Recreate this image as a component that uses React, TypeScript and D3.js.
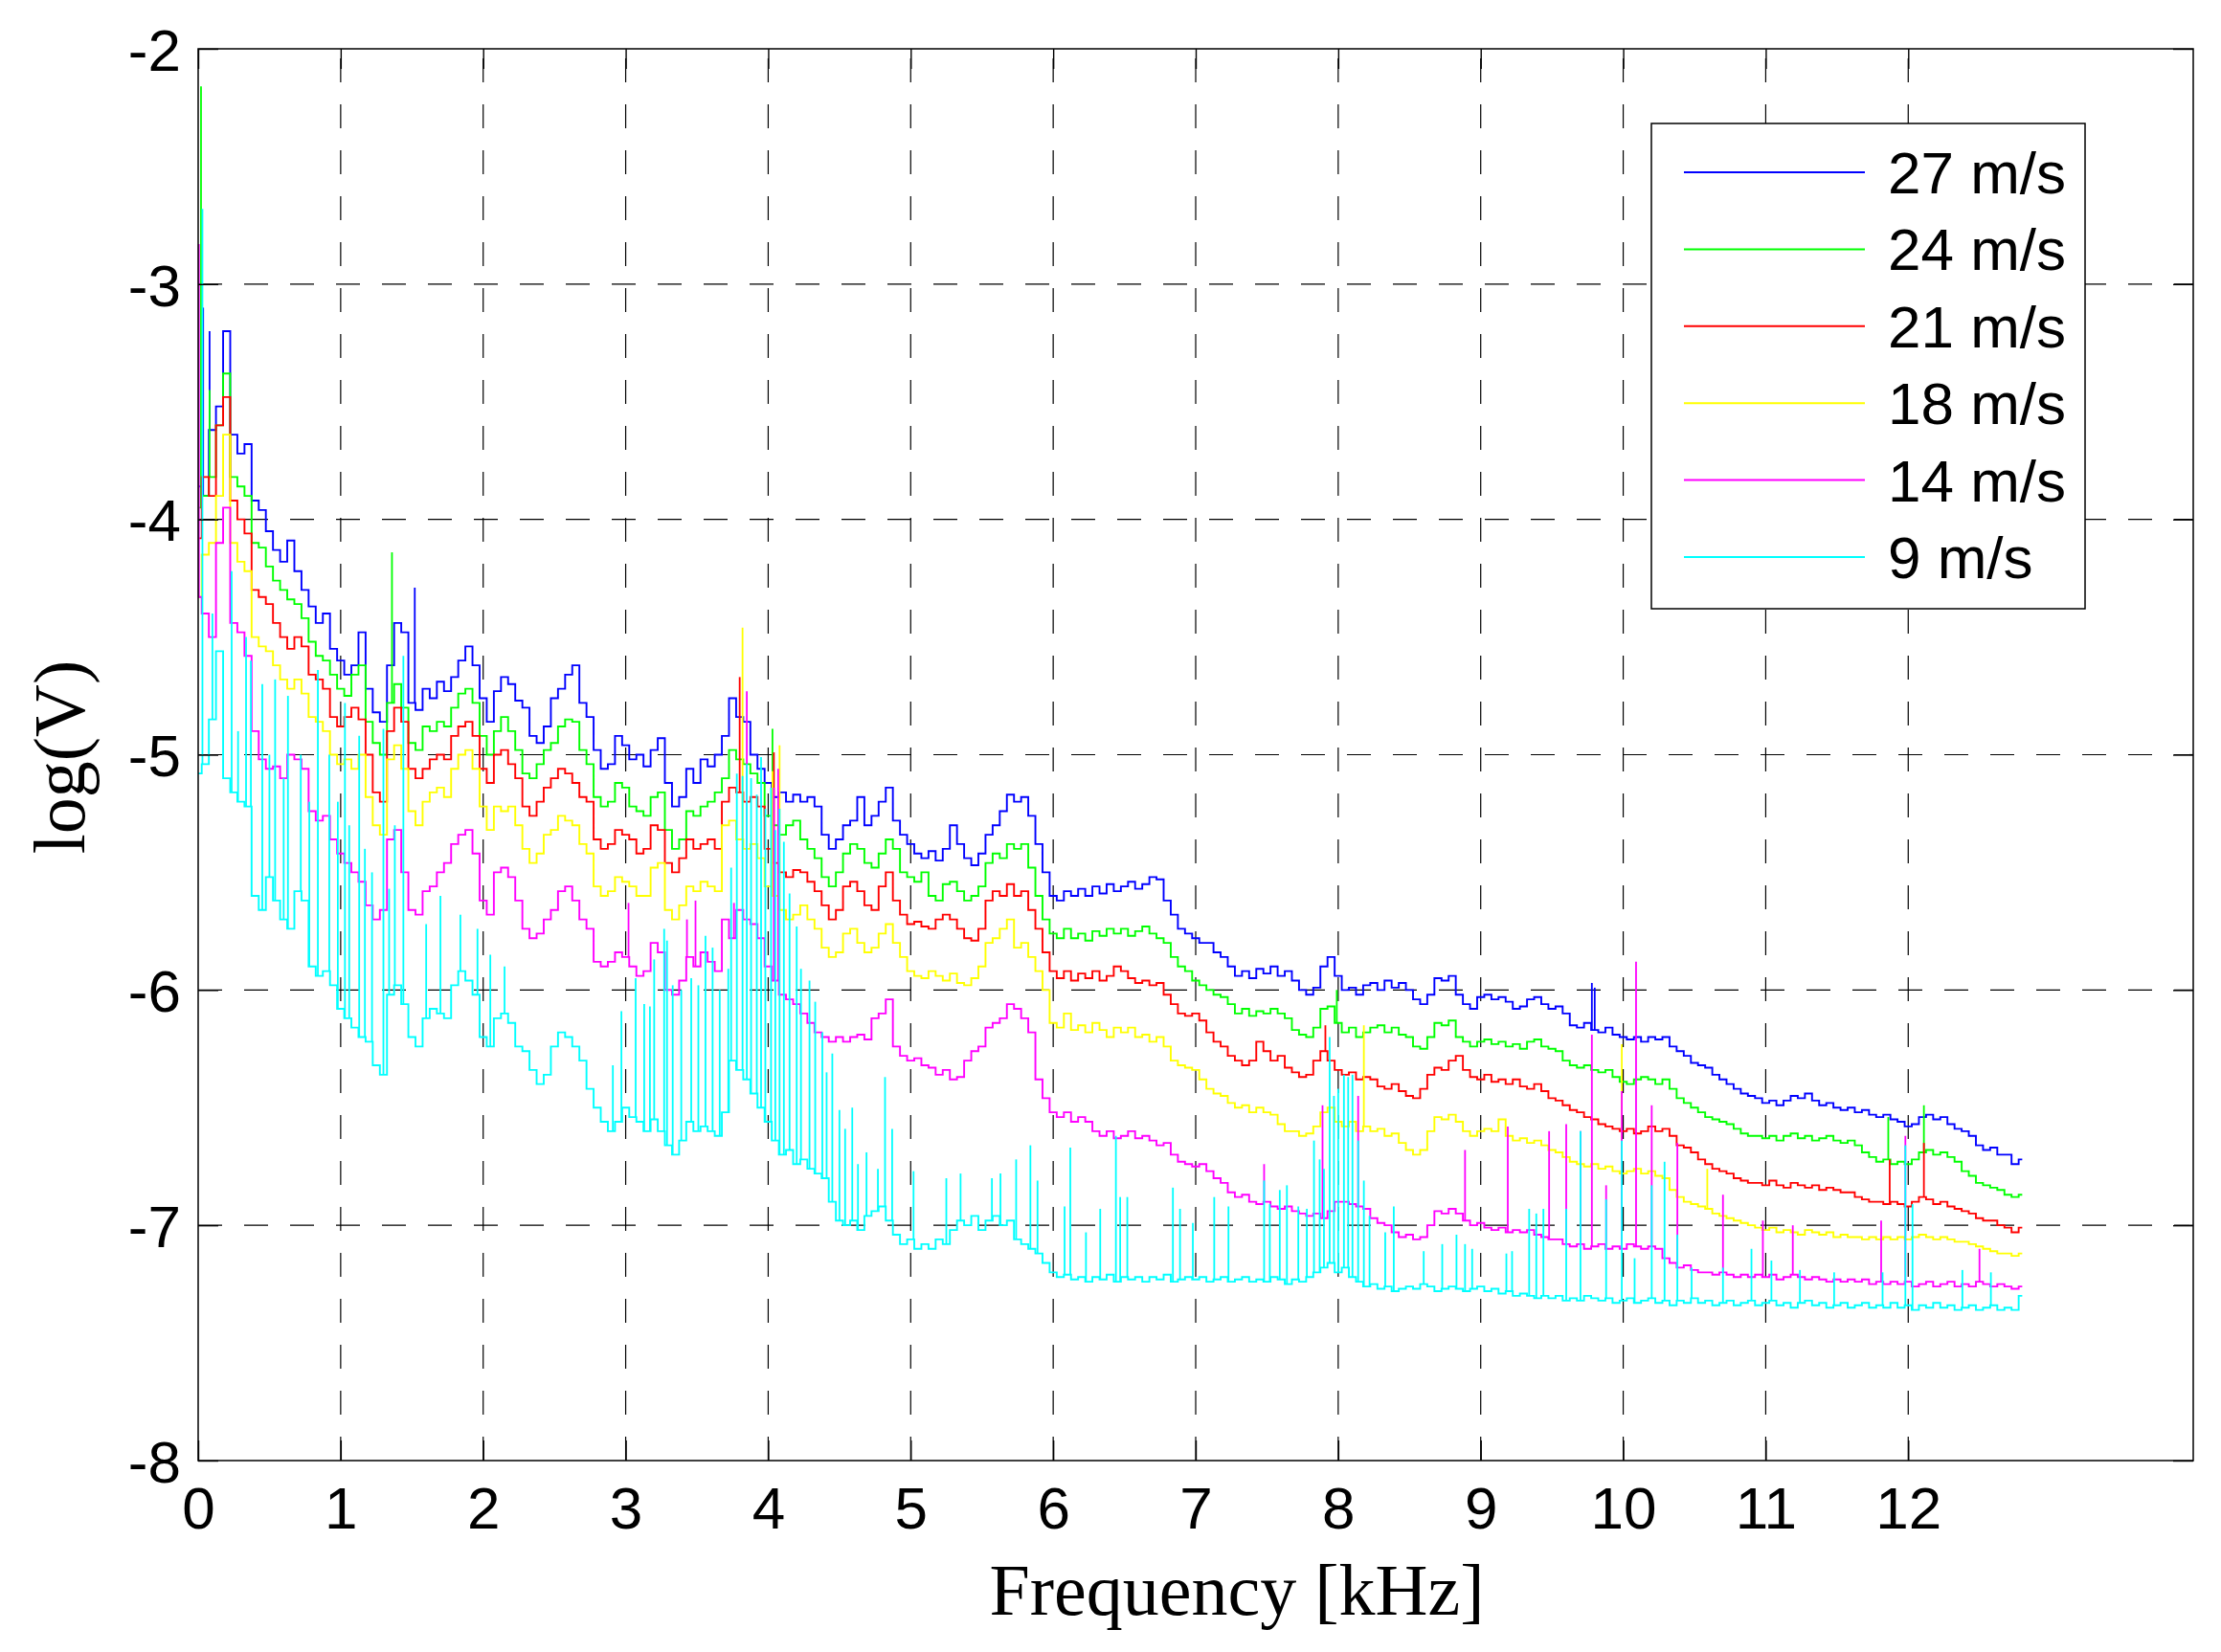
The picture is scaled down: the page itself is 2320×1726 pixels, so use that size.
import React, { useRef, useEffect } from "react";
import { select, scaleLinear, axisBottom, axisLeft, axisTop, axisRight, line, curveStep } from "d3";

// spectra sampled every 0.05 kHz from 0 to 12.8 kHz, values are log(V)
const freqStep = 0.05;
const xTickValues = [0, 1, 2, 3, 4, 5, 6, 7, 8, 9, 10, 11, 12];
const yTickValues = [-8, -7, -6, -5, -4, -3, -2];
const speedLabels = ["27 m/s", "24 m/s", "21 m/s", "18 m/s", "14 m/s", "9 m/s"];
const speedColors = ["#0000ff", "#00ff00", "#ff0000", "#ffff00", "#ff00ff", "#00ffff"];

const logV27 = [
  -3.86, -3.9, -3.62, -3.52, -3.2, -3.64, -3.72, -3.68, -3.92, -3.96,
  -4.05, -4.13, -4.18, -4.09, -4.22, -4.3, -4.37, -4.44, -4.4, -4.55,
  -4.6, -4.66, -4.62, -4.48, -4.72, -4.82, -4.86, -4.62, -4.44, -4.48,
  -4.78, -4.81, -4.72, -4.76, -4.69, -4.73, -4.67, -4.6, -4.54, -4.62,
  -4.76, -4.86, -4.73, -4.67, -4.7, -4.77, -4.8, -4.92, -4.95, -4.88,
  -4.76, -4.72, -4.66, -4.62, -4.78, -4.84, -4.98, -5.06, -5.04, -4.92,
  -4.96, -5.02, -5.0, -5.05, -4.98, -4.93, -5.12, -5.22, -5.18, -5.06,
  -5.12, -5.02, -5.05, -5.0, -4.92, -4.76, -4.84, -4.86, -5.0, -5.06,
  -5.12, -5.18, -5.16, -5.2, -5.17, -5.2, -5.18, -5.22, -5.34, -5.4,
  -5.36, -5.3, -5.28, -5.18, -5.3, -5.26, -5.2, -5.14, -5.28, -5.34,
  -5.38, -5.42, -5.44, -5.41, -5.45, -5.4, -5.3, -5.38, -5.44, -5.47,
  -5.42, -5.34, -5.3, -5.24, -5.17, -5.2, -5.18, -5.26, -5.38, -5.5,
  -5.6, -5.62, -5.58, -5.6, -5.57, -5.6, -5.56, -5.59, -5.55, -5.58,
  -5.56, -5.54, -5.57, -5.55, -5.52, -5.53, -5.62, -5.68, -5.74, -5.76,
  -5.78, -5.8, -5.8, -5.84, -5.86, -5.9, -5.94, -5.92, -5.95, -5.91,
  -5.93, -5.9, -5.94, -5.92, -5.96, -6.0, -6.02, -5.99, -5.9, -5.86,
  -5.94, -6.0, -5.99, -6.02, -5.98, -5.97, -6.0, -5.96, -5.99, -5.97,
  -6.0, -6.04, -6.06, -6.02, -5.95, -5.96, -5.94, -6.02, -6.06, -6.08,
  -6.03, -6.02, -6.04, -6.03, -6.05, -6.08, -6.07, -6.04, -6.03, -6.06,
  -6.08, -6.07, -6.1, -6.15, -6.16, -6.14, -6.17, -6.18, -6.16, -6.19,
  -6.2, -6.21, -6.2, -6.22, -6.2, -6.21, -6.2, -6.24, -6.26, -6.28,
  -6.31, -6.32, -6.33, -6.36, -6.38, -6.4, -6.42, -6.44, -6.45, -6.46,
  -6.48, -6.47, -6.49, -6.47, -6.45, -6.46, -6.44, -6.47, -6.49, -6.48,
  -6.5, -6.51, -6.5, -6.52, -6.51, -6.53, -6.54, -6.53, -6.55, -6.56,
  -6.58, -6.57, -6.54, -6.53, -6.55, -6.54, -6.57, -6.59, -6.6, -6.62,
  -6.66, -6.68, -6.67, -6.7, -6.7, -6.74, -6.72,
];

const logV24 = [
  -3.95, -3.9, -3.82, -3.6, -3.38, -3.82, -3.86, -3.9, -4.1, -4.12,
  -4.2, -4.26, -4.3, -4.34, -4.36, -4.42, -4.52, -4.58, -4.6, -4.66,
  -4.72, -4.75, -4.66, -4.62, -4.86, -4.95, -5.0, -4.78, -4.7, -4.8,
  -4.95, -4.98, -4.88, -4.9, -4.86, -4.88, -4.8, -4.74, -4.72, -4.78,
  -4.92, -5.0, -4.9, -4.84, -4.9, -4.98, -5.08, -5.1, -5.04, -4.98,
  -4.95, -4.88, -4.85, -4.86, -4.98, -5.04, -5.18, -5.22, -5.2, -5.12,
  -5.14, -5.22, -5.24, -5.26, -5.18, -5.16, -5.32, -5.4, -5.36, -5.24,
  -5.26, -5.22, -5.2, -5.16, -5.1, -4.98, -5.02, -5.04, -5.08, -5.12,
  -5.26, -5.3, -5.34, -5.3, -5.28, -5.36, -5.4, -5.44, -5.52, -5.56,
  -5.5, -5.42, -5.38, -5.4, -5.46, -5.48, -5.42, -5.36, -5.4, -5.5,
  -5.52, -5.54, -5.5, -5.6, -5.62, -5.55, -5.54, -5.58, -5.62, -5.6,
  -5.56, -5.46, -5.42, -5.44, -5.38, -5.4, -5.38, -5.48, -5.6, -5.7,
  -5.76, -5.78, -5.74, -5.78, -5.76, -5.79, -5.75, -5.77, -5.74, -5.76,
  -5.74, -5.77, -5.75, -5.73, -5.76, -5.78, -5.8, -5.86, -5.9, -5.92,
  -5.96, -5.98, -6.0, -6.02, -6.03, -6.06, -6.1, -6.08, -6.11, -6.09,
  -6.1, -6.08, -6.1, -6.12, -6.17, -6.19, -6.2, -6.16, -6.08, -6.07,
  -6.14, -6.18, -6.16, -6.2, -6.18, -6.16, -6.15, -6.18, -6.16, -6.19,
  -6.2, -6.24, -6.25, -6.2, -6.14, -6.15, -6.13, -6.2, -6.22, -6.24,
  -6.22, -6.21, -6.23, -6.22, -6.24, -6.23, -6.25, -6.22, -6.21, -6.24,
  -6.25, -6.26, -6.3, -6.32, -6.33, -6.32, -6.34, -6.35, -6.34, -6.37,
  -6.39, -6.4, -6.38, -6.37, -6.38, -6.4, -6.38, -6.42, -6.46, -6.48,
  -6.5, -6.52, -6.54, -6.55, -6.56, -6.57, -6.59, -6.61, -6.62, -6.62,
  -6.63, -6.62, -6.64, -6.62, -6.61, -6.63, -6.62, -6.64, -6.63, -6.62,
  -6.64, -6.65, -6.64, -6.66, -6.69, -6.71, -6.73, -6.72, -6.74, -6.73,
  -6.74, -6.72, -6.69, -6.68, -6.7, -6.69, -6.71, -6.73, -6.77, -6.79,
  -6.82, -6.83, -6.84, -6.85, -6.87, -6.88, -6.87,
];

const logV21 = [
  -4.08, -3.82, -3.9, -3.6, -3.48, -3.92, -4.0, -4.06, -4.3, -4.33,
  -4.36, -4.44, -4.5, -4.55, -4.5, -4.54, -4.66, -4.68, -4.72, -4.84,
  -4.88, -4.84, -4.8, -4.85, -5.0, -5.16, -5.2, -4.9, -4.8, -4.86,
  -5.06, -5.1, -5.06, -5.02, -5.0, -5.02, -4.92, -4.88, -4.86, -4.92,
  -5.06, -5.12, -5.0, -4.98, -5.04, -5.1, -5.22, -5.26, -5.2, -5.14,
  -5.1, -5.06, -5.08, -5.12, -5.18, -5.2, -5.36, -5.4, -5.38, -5.32,
  -5.34, -5.36, -5.42, -5.4, -5.3, -5.32, -5.46, -5.5, -5.44, -5.36,
  -5.4, -5.38, -5.36, -5.4, -5.2, -5.14, -5.16, -5.2, -5.18, -5.22,
  -5.4, -5.46, -5.5, -5.52, -5.49, -5.5, -5.54, -5.58, -5.64, -5.7,
  -5.66, -5.56, -5.54, -5.58, -5.64, -5.66, -5.56, -5.5, -5.62, -5.68,
  -5.72, -5.71, -5.73, -5.74, -5.7, -5.68, -5.7, -5.74, -5.78, -5.79,
  -5.74, -5.62, -5.58, -5.6, -5.55, -5.6, -5.58, -5.66, -5.74, -5.84,
  -5.92, -5.95, -5.92, -5.96, -5.93, -5.95, -5.92, -5.96, -5.94, -5.9,
  -5.92, -5.95, -5.97, -5.96, -5.98, -5.97, -6.02, -6.06, -6.1, -6.11,
  -6.1, -6.13, -6.18, -6.22, -6.24, -6.28, -6.3, -6.32, -6.3, -6.22,
  -6.26, -6.3, -6.28, -6.33, -6.35, -6.37, -6.36, -6.3, -6.26, -6.3,
  -6.34, -6.36, -6.35, -6.38, -6.37, -6.38, -6.41, -6.42, -6.4, -6.43,
  -6.45, -6.46, -6.42, -6.36, -6.33, -6.34, -6.3, -6.28, -6.34, -6.37,
  -6.38, -6.36, -6.39, -6.38, -6.4, -6.38, -6.41, -6.42, -6.4, -6.43,
  -6.46, -6.47, -6.49, -6.51, -6.52, -6.54, -6.55, -6.57, -6.58, -6.59,
  -6.6, -6.59, -6.61, -6.6, -6.58, -6.6, -6.59, -6.62, -6.66, -6.67,
  -6.69, -6.72, -6.74, -6.76, -6.77, -6.78, -6.8, -6.81, -6.82, -6.82,
  -6.83, -6.81, -6.83, -6.84, -6.82, -6.83, -6.84, -6.83, -6.85, -6.84,
  -6.85, -6.86, -6.86, -6.88, -6.89, -6.9, -6.9, -6.91, -6.9, -6.91,
  -6.92, -6.9, -6.88, -6.89, -6.91, -6.9, -6.92, -6.93, -6.94, -6.95,
  -6.97, -6.98, -6.98, -7.0, -7.01, -7.03, -7.01,
];

const logV18 = [
  -4.33, -4.15, -4.1, -3.9, -3.64, -4.1, -4.18, -4.22, -4.5, -4.54,
  -4.56, -4.62, -4.68, -4.72, -4.68, -4.74, -4.84, -4.86, -4.9, -5.0,
  -5.04, -5.02, -5.06, -5.0, -5.18, -5.3, -5.34, -5.02, -4.96, -5.06,
  -5.24, -5.3, -5.2, -5.16, -5.14, -5.18, -5.06, -5.0, -4.98, -5.06,
  -5.22, -5.32, -5.22, -5.24, -5.22, -5.3, -5.4, -5.46, -5.42, -5.34,
  -5.32, -5.26, -5.28, -5.3, -5.38, -5.42, -5.56, -5.6, -5.58, -5.52,
  -5.54, -5.56, -5.6, -5.6, -5.48, -5.46, -5.66, -5.7, -5.64, -5.56,
  -5.58, -5.54, -5.56, -5.58, -5.3, -5.28, -5.36, -5.4, -5.38, -5.44,
  -5.56, -5.6, -5.66, -5.7, -5.68, -5.64, -5.7, -5.74, -5.82, -5.86,
  -5.84, -5.76, -5.74, -5.8, -5.84, -5.82, -5.76, -5.72, -5.8, -5.86,
  -5.92, -5.94, -5.95, -5.92, -5.94, -5.96, -5.93, -5.97, -5.98, -5.95,
  -5.9, -5.8, -5.78, -5.74, -5.7, -5.82, -5.8, -5.86, -5.92, -6.0,
  -6.14, -6.16, -6.1, -6.17, -6.15, -6.18, -6.14, -6.17, -6.2, -6.16,
  -6.18, -6.16, -6.2, -6.19, -6.22, -6.2, -6.24, -6.3, -6.32, -6.33,
  -6.34, -6.38, -6.42, -6.44, -6.45, -6.48, -6.5, -6.49, -6.52, -6.5,
  -6.52, -6.53, -6.57, -6.6, -6.6, -6.62, -6.61, -6.58, -6.52, -6.5,
  -6.56, -6.58, -6.56, -6.6, -6.58, -6.6, -6.59, -6.62, -6.61, -6.65,
  -6.68, -6.7, -6.68, -6.6, -6.54, -6.55, -6.53, -6.56, -6.6, -6.62,
  -6.6, -6.59, -6.6, -6.55, -6.62, -6.64, -6.63, -6.65, -6.64, -6.66,
  -6.68, -6.69, -6.71, -6.73, -6.74, -6.75, -6.74, -6.76, -6.75, -6.77,
  -6.78, -6.77, -6.76, -6.78, -6.77, -6.79, -6.8, -6.85, -6.88, -6.9,
  -6.91, -6.92, -6.93, -6.95, -6.96, -6.97, -6.98, -6.99, -7.0, -7.01,
  -7.02, -7.01, -7.03, -7.02, -7.03, -7.04, -7.02, -7.03, -7.04, -7.03,
  -7.05, -7.04, -7.05, -7.05, -7.06, -7.05, -7.06, -7.05, -7.06, -7.05,
  -7.06, -7.05, -7.04, -7.05, -7.06, -7.05, -7.06, -7.07, -7.07, -7.08,
  -7.09, -7.1, -7.11, -7.12, -7.12, -7.13, -7.12,
];

const logV14 = [
  -4.33, -4.4, -4.5, -4.1, -3.95, -4.44, -4.48, -4.58, -4.9, -5.02,
  -5.06, -5.05, -5.1, -5.0, -5.02, -5.06, -5.24, -5.28, -5.26, -5.36,
  -5.42, -5.46, -5.5, -5.54, -5.64, -5.7, -5.66, -5.36, -5.32, -5.5,
  -5.66, -5.68, -5.58, -5.56, -5.5, -5.46, -5.38, -5.34, -5.32, -5.42,
  -5.62, -5.68, -5.5, -5.48, -5.52, -5.62, -5.74, -5.78, -5.76, -5.7,
  -5.66, -5.58, -5.56, -5.62, -5.7, -5.74, -5.88, -5.9, -5.88, -5.84,
  -5.86, -5.9, -5.94, -5.92, -5.8, -5.84, -6.0, -6.02, -5.96, -5.86,
  -5.9, -5.84, -5.88, -5.92, -5.7, -5.78, -5.66, -5.7, -5.72, -5.78,
  -5.9, -5.96, -6.02, -6.04, -6.06, -6.1, -6.14, -6.18, -6.2, -6.22,
  -6.2, -6.22, -6.2, -6.19, -6.21, -6.12, -6.1, -6.04, -6.24, -6.28,
  -6.3, -6.29, -6.32, -6.33, -6.36, -6.34, -6.38, -6.37, -6.3, -6.26,
  -6.24, -6.16, -6.14, -6.12, -6.06, -6.08, -6.12, -6.18, -6.38, -6.46,
  -6.52, -6.54, -6.52, -6.56, -6.54, -6.56, -6.6, -6.62, -6.6, -6.63,
  -6.62, -6.6, -6.63, -6.62, -6.64, -6.66, -6.65, -6.7, -6.73, -6.74,
  -6.75, -6.74, -6.77, -6.8, -6.82, -6.86, -6.88, -6.87, -6.9, -6.91,
  -6.9, -6.92, -6.93, -6.92, -6.94, -6.95, -6.96, -6.95, -6.97, -6.94,
  -6.9, -6.9, -6.91, -6.92, -6.93, -6.97, -6.99, -7.0, -7.03, -7.05,
  -7.04, -7.06, -7.05, -7.0, -6.94, -6.95, -6.93, -6.95, -6.98, -7.0,
  -6.99, -7.01, -7.02, -7.01, -7.03, -7.02, -7.03, -7.02, -7.04, -7.05,
  -7.06, -7.06, -7.08, -7.09, -7.08, -7.1, -7.09, -7.08, -7.1, -7.09,
  -7.1, -7.08, -7.09, -7.1, -7.09, -7.1, -7.14, -7.16, -7.18, -7.17,
  -7.19, -7.2, -7.2, -7.21, -7.2, -7.21, -7.22, -7.21, -7.22, -7.21,
  -7.22, -7.21, -7.23, -7.22, -7.21, -7.22, -7.23, -7.22, -7.23, -7.24,
  -7.23, -7.24, -7.23, -7.24, -7.23, -7.25, -7.24, -7.25, -7.24, -7.25,
  -7.24, -7.26, -7.25, -7.24, -7.26, -7.25, -7.24, -7.26, -7.25, -7.26,
  -7.24, -7.25, -7.26, -7.25, -7.26, -7.27, -7.26,
];

const logV9 = [
  -5.08, -5.04, -4.85, -4.56, -5.1, -5.16, -5.2, -5.22, -5.6, -5.66,
  -5.52, -5.62, -5.7, -5.74, -5.58, -5.62, -5.9, -5.94, -5.92, -5.98,
  -6.08, -6.12, -6.16, -6.2, -6.22, -6.32, -6.36, -6.02, -5.98, -6.06,
  -6.2, -6.24, -6.12, -6.08, -6.1, -6.12, -5.98, -5.92, -5.96, -6.02,
  -6.2, -6.24, -6.12, -6.1, -6.14, -6.24, -6.26, -6.34, -6.4, -6.36,
  -6.24, -6.18, -6.2, -6.24, -6.3, -6.42, -6.5, -6.56, -6.6, -6.56,
  -6.5, -6.54, -6.56, -6.6, -6.55, -6.6, -6.66, -6.7, -6.64, -6.56,
  -6.6, -6.58, -6.6, -6.62, -6.52, -6.3, -6.34, -6.38, -6.44, -6.5,
  -6.56, -6.64, -6.7, -6.68, -6.74, -6.72, -6.76, -6.78, -6.8, -6.9,
  -6.98, -7.0, -6.98, -7.02, -6.96, -6.94, -6.92, -6.98, -7.04, -7.08,
  -7.06, -7.1, -7.08, -7.1, -7.06, -7.08, -7.02, -6.98, -7.0, -6.96,
  -7.02, -6.98, -6.96, -7.0, -6.98, -7.06, -7.08, -7.1, -7.12, -7.16,
  -7.2, -7.22, -7.21, -7.23, -7.22, -7.24, -7.22, -7.23, -7.21, -7.24,
  -7.22, -7.23, -7.22, -7.24, -7.22, -7.23, -7.21, -7.24, -7.23, -7.22,
  -7.23, -7.22, -7.24, -7.23, -7.22, -7.24, -7.23, -7.22, -7.24, -7.23,
  -7.24, -7.22, -7.23, -7.25, -7.23, -7.24, -7.22, -7.2, -7.18, -7.16,
  -7.2, -7.18, -7.22, -7.24, -7.26, -7.25, -7.27, -7.26, -7.28, -7.27,
  -7.26, -7.27, -7.25, -7.26, -7.28, -7.27, -7.26, -7.27, -7.28, -7.27,
  -7.26, -7.28, -7.27, -7.29, -7.28, -7.3, -7.29, -7.3, -7.31, -7.3,
  -7.31, -7.3, -7.32, -7.31, -7.32, -7.3, -7.31, -7.32, -7.31, -7.33,
  -7.32, -7.31, -7.33, -7.32, -7.31, -7.33, -7.32, -7.34, -7.32, -7.33,
  -7.31, -7.33, -7.32, -7.34, -7.33, -7.32, -7.34, -7.33, -7.32, -7.34,
  -7.33, -7.32, -7.34, -7.33, -7.35, -7.33, -7.32, -7.34, -7.33, -7.35,
  -7.34, -7.33, -7.35, -7.34, -7.33, -7.35, -7.34, -7.35, -7.33, -7.35,
  -7.34, -7.36, -7.34, -7.35, -7.33, -7.35, -7.34, -7.36, -7.35, -7.34,
  -7.36, -7.35, -7.34, -7.36, -7.35, -7.36, -7.3,
];

// single-bin peaks sticking out of each spectrum: [kHz, log(V)]
const spikes27 = [[0.035, -3.1], [0.08, -3.2], [1.52, -4.29], [9.78, -5.97], [9.8, -5.99]];
const spikes24 = [[0.02, -2.16], [0.08, -3.45], [1.36, -4.14], [4.03, -4.89], [7.99, -6.0], [11.86, -6.54], [12.11, -6.49]];
const spikes21 = [[3.8, -4.67], [4.04, -4.99], [7.91, -6.15], [11.87, -6.72], [12.11, -6.65]];
const spikes18 = [[3.82, -4.46], [4.03, -5.07], [4.08, -4.96], [8.18, -6.15], [9.99, -6.23], [10.59, -6.76]];
const spikes14 = [
  [0.005, -2.83], [3.02, -5.63], [3.43, -5.7], [3.49, -5.62], [3.76, -5.63], [3.85, -4.73], [4.04, -5.14],
  [4.07, -5.06], [7.48, -6.74], [7.89, -6.49], [8.14, -6.45], [8.89, -6.68], [9.19, -6.58], [9.48, -6.6],
  [9.6, -6.57], [9.7, -6.6], [9.78, -6.19], [9.88, -6.83], [9.99, -6.43], [10.09, -5.88], [10.2, -6.49],
  [10.38, -6.65], [10.7, -6.87], [10.98, -6.98], [11.19, -7.0], [11.81, -6.98], [11.98, -6.62], [12.5, -7.1],
];
const spikes9 = [
  [0.03, -2.68], [0.1, -4.4], [0.235, -4.22], [0.28, -4.9], [0.336, -4.5], [0.37, -4.6], [0.45, -4.7],
  [0.5, -5.0], [0.54, -4.68], [0.6, -5.1], [0.63, -4.75], [0.72, -5.0], [0.78, -5.2], [0.84, -4.64],
  [0.92, -5.0], [0.98, -5.2], [1.03, -4.78], [1.06, -5.3], [1.13, -4.92], [1.17, -5.4], [1.22, -5.5],
  [1.3, -4.89], [1.34, -5.57], [1.38, -5.3], [1.44, -4.58],
  [1.6, -5.72], [1.7, -5.6], [1.84, -5.68], [1.96, -5.74], [2.05, -5.85], [2.15, -5.9],
  [2.91, -6.32], [2.97, -6.09], [3.07, -5.95], [3.13, -6.06], [3.17, -6.07], [3.2, -5.87], [3.27, -5.74],
  [3.29, -5.79], [3.33, -5.98], [3.39, -6.0], [3.46, -5.95], [3.51, -5.98], [3.56, -5.77], [3.61, -5.82],
  [3.66, -6.0], [3.72, -5.91], [3.74, -5.48], [3.78, -5.08], [3.82, -5.09], [3.85, -5.04], [3.88, -5.1],
  [3.92, -5.17], [3.95, -5.01], [3.98, -5.23], [4.02, -5.14], [4.05, -5.32], [4.08, -5.23], [4.11, -5.37],
  [4.15, -5.59], [4.2, -5.73], [4.23, -5.91], [4.29, -5.96], [4.33, -6.05], [4.38, -6.18], [4.41, -6.35],
  [4.45, -6.27], [4.5, -6.51], [4.54, -6.59], [4.59, -6.5], [4.63, -6.74], [4.69, -6.69], [4.77, -6.76],
  [4.82, -6.37], [4.87, -6.59], [5.02, -6.77], [5.25, -6.8], [5.35, -6.78], [5.57, -6.8], [5.63, -6.78],
  [5.74, -6.72], [5.84, -6.66], [5.89, -6.81], [6.08, -6.92], [6.12, -6.67], [6.23, -7.03], [6.33, -6.93],
  [6.44, -6.62], [6.47, -6.88], [6.52, -6.88], [6.84, -6.84], [6.89, -6.93], [6.98, -6.99], [7.13, -6.88],
  [7.23, -6.92], [7.48, -6.81], [7.52, -6.91], [7.59, -6.85], [7.64, -6.83], [7.72, -6.92], [7.78, -6.93],
  [7.83, -6.64], [7.87, -6.72], [7.9, -6.76], [7.94, -6.2], [7.97, -6.45], [8.0, -6.42], [8.04, -6.36],
  [8.07, -6.37], [8.1, -6.36], [8.14, -6.64], [8.18, -6.81], [8.22, -6.96], [8.33, -7.03], [8.39, -6.92],
  [8.6, -7.11], [8.73, -7.08], [8.83, -7.04], [8.89, -7.08], [8.94, -7.1], [9.18, -7.12], [9.22, -7.11],
  [9.34, -6.93], [9.39, -6.95], [9.44, -6.93], [9.6, -6.93], [9.7, -6.6], [9.88, -6.89], [9.99, -6.64],
  [10.08, -7.14], [10.2, -6.83], [10.29, -6.73], [10.38, -7.04], [10.48, -7.18], [10.7, -7.18], [10.9, -7.1],
  [11.04, -7.15], [11.24, -7.19], [11.48, -7.2], [11.82, -7.2], [11.98, -6.66], [12.03, -6.91], [12.38, -7.19],
  [12.58, -7.2],
];

const seriesValues = [logV27, logV24, logV21, logV18, logV14, logV9];
const seriesSpikes = [spikes27, spikes24, spikes21, spikes18, spikes14, spikes9];

const sansFont = "'Liberation Sans', Arial, sans-serif";
const serifFont = "'Liberation Serif', 'Times New Roman', serif";

function SpectrumChart() {
  const svgRef = useRef(null);
  const width = 2320;
  const height = 1726;
  const plot = { left: 207, top: 51, right: 2291, bottom: 1526 };

  useEffect(() => {
    const svg = select(svgRef.current);
    const xscale = scaleLinear().domain([0, 14]).range([plot.left, plot.right]);
    const yscale = scaleLinear().domain([-8, -2]).range([plot.bottom, plot.top]);

    // dashed grid, vertical dashes start at the bottom edge
    const grid = svg.select(".grid");
    grid
      .selectAll(".vgrid")
      .data(xTickValues.filter((d) => d > 0))
      .join("line")
      .attr("class", "vgrid")
      .attr("x1", (d) => xscale(d))
      .attr("x2", (d) => xscale(d))
      .attr("y1", plot.bottom)
      .attr("y2", plot.top)
      .attr("stroke", "#000")
      .attr("stroke-width", 1.2)
      .attr("stroke-dasharray", "25 23");
    grid
      .selectAll(".hgrid")
      .data(yTickValues.filter((d) => d > -8 && d < -2))
      .join("line")
      .attr("class", "hgrid")
      .attr("x1", plot.left)
      .attr("x2", plot.right)
      .attr("y1", (d) => yscale(d))
      .attr("y2", (d) => yscale(d))
      .attr("stroke", "#000")
      .attr("stroke-width", 1.2)
      .attr("stroke-dasharray", "25 23");

    const spectrum = line()
      .x((d, i) => xscale(i * freqStep))
      .y((d) => yscale(d))
      .curve(curveStep);

    const series = seriesValues.map((values, i) => ({
      color: speedColors[i],
      values,
      spikes: seriesSpikes[i].map((p) => ({
        f: p[0],
        v: p[1],
        base: values[Math.min(values.length - 1, Math.round(p[0] / freqStep))],
      })),
    }));

    const groups = svg
      .select(".content")
      .selectAll("g.series")
      .data(series)
      .join("g")
      .attr("class", "series");

    groups
      .selectAll("path")
      .data((s) => [s])
      .join("path")
      .attr("d", (s) => spectrum(s.values))
      .attr("fill", "none")
      .attr("stroke", (s) => s.color)
      .attr("stroke-width", 1.9);

    groups
      .selectAll("line.spike")
      .data((s) => s.spikes.map((p) => ({ ...p, color: s.color })))
      .join("line")
      .attr("class", "spike")
      .attr("x1", (d) => xscale(d.f))
      .attr("x2", (d) => xscale(d.f))
      .attr("y1", (d) => yscale(d.base))
      .attr("y2", (d) => yscale(d.v))
      .attr("stroke", (d) => d.color)
      .attr("stroke-width", 1.8);

    // axes, ticks point inwards like matlab
    const fmt = (d) => String(d);
    const xaxis = axisBottom(xscale).tickValues(xTickValues).tickSizeInner(-21).tickSizeOuter(0).tickPadding(27).tickFormat(fmt);
    const yaxis = axisLeft(yscale).tickValues(yTickValues).tickSizeInner(-21).tickSizeOuter(0).tickPadding(18).tickFormat(fmt);
    const xtop = axisTop(xscale).tickValues(xTickValues).tickSizeInner(-21).tickSizeOuter(0).tickFormat(() => "");
    const yright = axisRight(yscale).tickValues(yTickValues).tickSizeInner(-21).tickSizeOuter(0).tickFormat(() => "");

    svg.select(".x-axis").attr("transform", `translate(0,${plot.bottom})`).call(xaxis);
    svg.select(".y-axis").attr("transform", `translate(${plot.left},0)`).call(yaxis);
    svg.select(".x-top").attr("transform", `translate(0,${plot.top})`).call(xtop);
    svg.select(".y-right").attr("transform", `translate(${plot.right},0)`).call(yright);

    svg.selectAll(".axis .domain").remove();
    svg.selectAll(".axis line").attr("stroke", "#000").attr("stroke-width", 1.4);
    svg
      .selectAll(".axis text")
      .attr("font-family", sansFont)
      .attr("font-size", 62)
      .attr("fill", "#000");
    svg.select(".y-axis").selectAll("text").attr("dy", "0.36em");
  }, []);

  const legendRowY = (i) => 180 + i * 80.4;

  return (
    <svg
      ref={svgRef}
      width={width}
      height={height}
      style={{ position: "absolute", left: 0, top: 0, background: "#fff" }}
    >
      <rect x={0} y={0} width={width} height={height} fill="#fff" />
      <g className="grid"></g>
      <g className="content"></g>
      <g className="axis x-axis"></g>
      <g className="axis y-axis"></g>
      <g className="axis x-top"></g>
      <g className="axis y-right"></g>
      <rect
        x={plot.left}
        y={plot.top}
        width={plot.right - plot.left}
        height={plot.bottom - plot.top}
        fill="none"
        stroke="#000"
        strokeWidth={1.5}
      />

      <g className="legend">
        <rect x={1725} y={129} width={453} height={507} fill="#fff" stroke="#000" strokeWidth={1.5} />
        {speedLabels.map((label, i) => (
          <g key={label}>
            <line x1={1759} x2={1948} y1={legendRowY(i)} y2={legendRowY(i)} stroke={speedColors[i]} strokeWidth={2} />
            <text x={1972} y={legendRowY(i) + 22} fontFamily={sansFont} fontSize={62} fill="#000">
              {label}
            </text>
          </g>
        ))}
      </g>

      <text x={1292} y={1687} textAnchor="middle" fontFamily={serifFont} fontSize={76} fill="#000">
        Frequency [kHz]
      </text>
      <text
        transform="translate(88,791) rotate(-90)"
        textAnchor="middle"
        fontFamily={serifFont}
        fontSize={76}
        fill="#000"
      >
        log(V)
      </text>
    </svg>
  );
}

export default function App() {
  return <SpectrumChart />;
}
